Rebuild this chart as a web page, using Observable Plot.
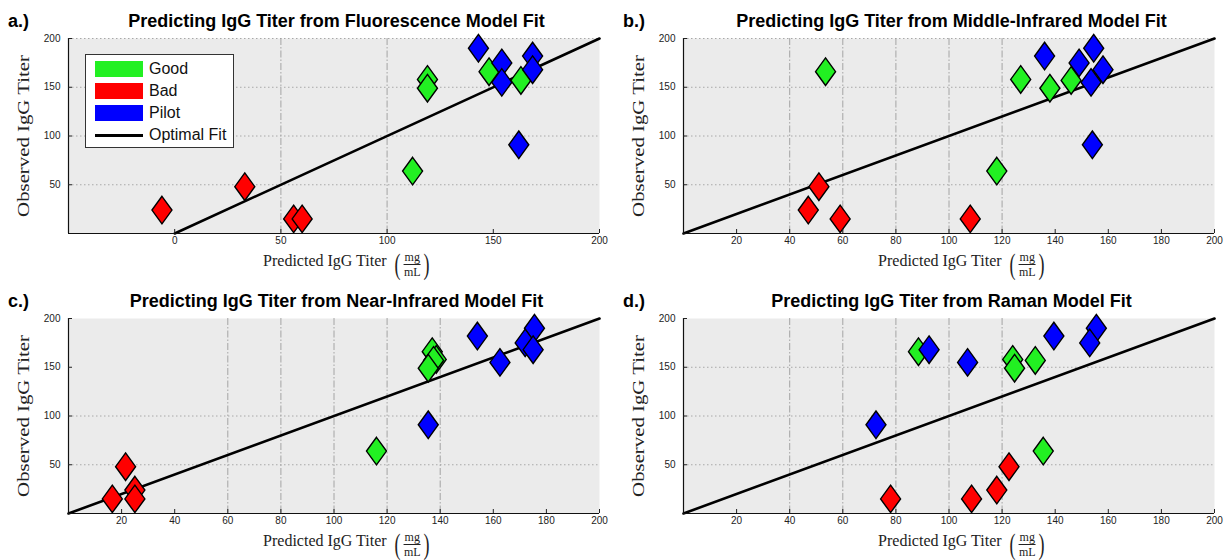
<!DOCTYPE html>
<html>
<head>
<meta charset="utf-8">
<script src="https://cdn.jsdelivr.net/npm/d3@7"></script>
<script src="https://cdn.jsdelivr.net/npm/@observablehq/plot@0.6"></script>
<style>
  body { margin: 0; background: #fff; }
  #root { position: relative; width: 1231px; height: 560px; overflow: hidden; background: #fff; }
  .panel { position: absolute; width: 616px; height: 280px; }
  .panel svg { position: absolute; left: 0; top: 0; }
  .tag { position: absolute; left: 8px; top: 12px; font: bold 18px/18px "Liberation Sans", Arial, sans-serif; color: #000; }
  .title { position: absolute; top: 12px; text-align: center; font: bold 18px/18px "Liberation Sans", Arial, sans-serif; white-space: nowrap; color: #000; }
  .ylab { position: absolute; font: 16px/16px "Liberation Serif", serif; white-space: nowrap; color: #222;
          transform: translate(-50%, -50%) rotate(-90deg) scaleX(1.3); }
  .xlab { position: absolute; top: 249px; height: 30px; display: flex; align-items: center; white-space: nowrap;
          transform: translateX(-50%); color: #222; font: 16px/16px "Liberation Serif", serif; }
  .xlab .txt { position: relative; top: -3px; margin-right: 6px; }
  .paren { font: 30px/30px "Liberation Serif", serif; display: inline-block; transform: scaleX(0.6); }
  .frac { display: inline-flex; flex-direction: column; align-items: center; font: 12px/12px "Liberation Serif", serif; margin: 0 1px; }
  .frac .num { border-bottom: 1px solid #222; padding: 0 1px 1px 1px; }
  .frac .den { padding-top: 1px; }
  .legend { position: absolute; left: 85px; top: 54px; width: 147px; height: 92px; background: #fff; border: 1px solid #333; }
  .legend .row { position: absolute; left: 9px; height: 16px; display: flex; align-items: center; }
  .legend .sw { width: 48px; height: 16px; margin-right: 6px; }
  .legend .ln { width: 48px; height: 3px; background: #000; margin-right: 6px; }
  .legend .lt { font: 16px/16px "Liberation Sans", Arial, sans-serif; color: #111; }
</style>
</head>
<body>
<div id="root"></div>
<script>
// ---------- data ----------
const groupNames = ["Good", "Bad", "Pilot"];
const groupColors = ["#22f022", "#ff0000", "#0000ff"];

const sampleGroups = ["Good","Good","Good","Good","Good","Bad","Bad","Bad","Bad","Pilot","Pilot","Pilot","Pilot","Pilot","Pilot"];
const observedTiter = [166, 158, 157, 149, 64, 48, 24, 15, 15, 190, 182, 175, 168, 155, 91];

const predFluorescence = [148, 119, 163, 119, 112, 33, -6, 56, 60, 143, 168.5, 154, 168.5, 154, 162];
const predMiddleIR     = [53.5, 127, 146, 138, 118, 51, 47, 59, 108, 154.5, 136, 149, 158, 153.5, 154];
const predNearIR       = [137, 138.5, 137.5, 135.5, 116, 21.5, 25, 16.5, 25, 175.5, 154, 172, 175, 162.5, 135.5];
const predRaman        = [88.5, 124, 132.5, 124.7, 135.5, 122.6, 118, 78, 108.5, 155.5, 139.5, 153, 92.5, 107, 72.5];

const fitX = [0, 200];
const fitY = [0, 200];

const yTicks = [50, 100, 150, 200];
const xTicksA = [0, 50, 100, 150, 200];
const xTicksB = [20, 40, 60, 80, 100, 120, 140, 160, 180, 200];

const panels = [
  { tag: "a.)", title: "Predicting IgG Titer from Fluorescence Model Fit", pred: predFluorescence,
    xDomain: [-50, 200], xTicks: xTicksA, hGrid: [50, 100, 150, 200], vGrid: [50, 100], left: 0, top: 0, legend: true },
  { tag: "b.)", title: "Predicting IgG Titer from Middle-Infrared Model Fit", pred: predMiddleIR,
    xDomain: [0, 200], xTicks: xTicksB, hGrid: [50, 100, 150, 200], vGrid: [40, 60, 80, 100, 120], left: 615, top: 0 },
  { tag: "c.)", title: "Predicting IgG Titer from Near-Infrared Model Fit", pred: predNearIR,
    xDomain: [0, 200], xTicks: xTicksB, hGrid: [50, 100], vGrid: [60, 80, 100, 120, 140], left: 0, top: 280 },
  { tag: "d.)", title: "Predicting IgG Titer from Raman Model Fit", pred: predRaman,
    xDomain: [0, 200], xTicks: xTicksB, hGrid: [50, 100, 150], vGrid: [40, 60, 80, 100, 120], left: 615, top: 280 }
];

// tall diamond (MATLAB-like 'd' marker as seen in the figure)
const diamond = {
  draw(ctx, size) {
    const r = Math.sqrt(size / Math.PI);
    const w = r, h = r * 1.38;
    ctx.moveTo(0, -h); ctx.lineTo(w, 0); ctx.lineTo(0, h); ctx.lineTo(-w, 0); ctx.closePath();
  }
};

const W = 616, H = 280, ML = 68, MR = 17, MT = 38, MB = 47;
const root = document.getElementById("root");

for (const p of panels) {
  const div = document.createElement("div");
  div.className = "panel";
  div.style.left = p.left + "px";
  div.style.top = p.top + "px";
  root.appendChild(div);

  const data = observedTiter.map((o, i) => ({ group: sampleGroups[i], observed: o, predicted: p.pred[i] }));
  const fit = fitX.map((x, i) => ({ x, y: fitY[i] }));

  const chart = Plot.plot({
    width: W, height: H,
    marginLeft: ML, marginRight: MR, marginTop: MT, marginBottom: MB,
    style: { background: "transparent", fontFamily: "'Liberation Sans', Arial, sans-serif", fontSize: "10px", color: "#222" },
    x: { domain: p.xDomain },
    y: { domain: [0, 200] },
    color: { domain: groupNames, range: groupColors },
    marks: [
      Plot.frame({ fill: "#ebebeb", stroke: "none" }),
      Plot.ruleY(p.hGrid, { stroke: "#a8a8a8", strokeDasharray: "1.5,2.5" }),
      Plot.ruleX(p.vGrid, { stroke: "#9c9c9c", strokeWidth: 0.9, strokeDasharray: "7,2,1.5,2" }),
      Plot.line(fit, { x: "x", y: "y", stroke: "#000", strokeWidth: 2.6 }),
      Plot.dot(data, { x: "predicted", y: "observed", fill: "group", stroke: "#000", strokeWidth: 1.4, r: 10, symbol: diamond }),
      Plot.ruleY([0], { stroke: "#111", strokeWidth: 1.2 }),
      Plot.ruleX([p.xDomain[0]], { stroke: "#111", strokeWidth: 1.2 }),
      Plot.axisX({ ticks: p.xTicks, tickSize: -4, tickPadding: 7, label: null, tickFormat: d => String(d) }),
      Plot.axisY({ ticks: yTicks, tickSize: -4, tickPadding: 12, label: null, tickFormat: d => String(d) })
    ]
  });
  div.appendChild(chart);

  const plotCenter = ML + (W - ML - MR) / 2;

  const tag = document.createElement("div");
  tag.className = "tag";
  tag.textContent = p.tag;
  div.appendChild(tag);

  const title = document.createElement("div");
  title.className = "title";
  title.style.left = (ML + 3) + "px";
  title.style.width = (W - ML - MR) + "px";
  title.textContent = p.title;
  div.appendChild(title);

  const ylab = document.createElement("div");
  ylab.className = "ylab";
  ylab.style.left = "24px";
  ylab.style.top = ((MT + (H - MB)) / 2) + "px";
  ylab.textContent = "Observed IgG Titer";
  div.appendChild(ylab);

  const xlab = document.createElement("div");
  xlab.className = "xlab";
  xlab.style.left = (plotCenter + 14) + "px";
  xlab.innerHTML = '<span class="txt">Predicted IgG Titer</span><span class="paren">(</span>' +
    '<span class="frac"><span class="num">mg</span><span class="den">mL</span></span><span class="paren">)</span>';
  div.appendChild(xlab);

  if (p.legend) {
    const lg = document.createElement("div");
    lg.className = "legend";
    const rows = groupNames.map((g, i) => ({ label: g, color: groupColors[i] }));
    rows.forEach((r, i) => {
      const row = document.createElement("div");
      row.className = "row";
      row.style.top = (6 + i * 22) + "px";
      row.innerHTML = `<span class="sw" style="background:${r.color}"></span><span class="lt">${r.label}</span>`;
      lg.appendChild(row);
    });
    const row = document.createElement("div");
    row.className = "row";
    row.style.top = (6 + 3 * 22) + "px";
    row.innerHTML = `<span class="ln"></span><span class="lt">Optimal Fit</span>`;
    lg.appendChild(row);
    div.appendChild(lg);
  }
}
</script>
</body>
</html>
